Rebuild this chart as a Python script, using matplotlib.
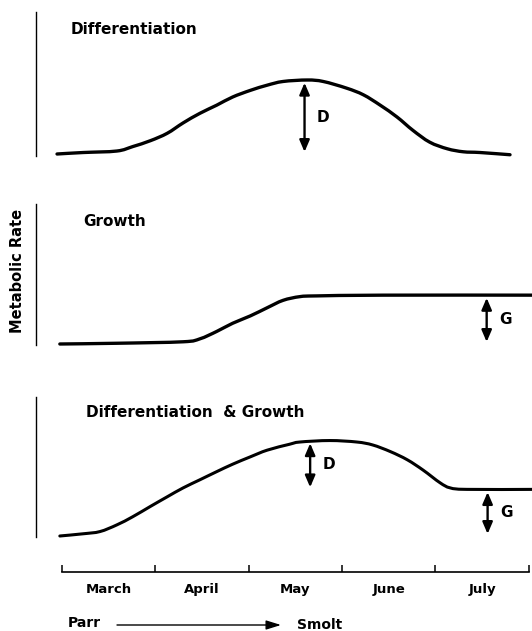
import matplotlib
matplotlib.use("Agg")
import matplotlib.pyplot as plt
from matplotlib.path import Path
from matplotlib.patches import PathPatch

# ---------------- data (x in months from start of March, y = relative metabolic rate) ----
months = ["March", "April", "May", "June", "July"]

diff_x = [-0.05, 0.23, 0.59, 0.76, 0.95, 1.13, 1.30, 1.48, 1.66, 1.83, 2.02, 2.20, 2.37,
          2.63, 2.80, 3.05, 3.23, 3.41, 3.59, 3.76, 3.94, 4.13, 4.30, 4.48, 4.80]
diff_y = [0.00, 0.02, 0.04, 0.10, 0.18, 0.28, 0.42, 0.55, 0.66, 0.77, 0.86, 0.93, 0.98,
          1.00, 0.98, 0.89, 0.80, 0.66, 0.50, 0.32, 0.16, 0.07, 0.03, 0.02, -0.01]

growth_x = [-0.02, 0.59, 1.30, 1.48, 1.66, 1.83, 2.02, 2.20, 2.37, 2.55, 2.73, 3.44, 5.04]
growth_y = [0.00, 0.01, 0.03, 0.07, 0.17, 0.28, 0.38, 0.49, 0.59, 0.64, 0.65, 0.66, 0.66]

both_x = [-0.02, 0.23, 0.41, 0.59, 0.76, 0.95, 1.13, 1.30, 1.48, 1.66, 1.83, 2.02, 2.20,
          2.44, 2.55, 2.87, 3.16, 3.33, 3.52, 3.70, 3.87, 4.05, 4.16, 4.34, 5.04]
both_y = [0.00, 0.03, 0.06, 0.15, 0.26, 0.40, 0.53, 0.65, 0.76, 0.87, 0.97, 1.07, 1.16,
          1.24, 1.27, 1.29, 1.27, 1.23, 1.14, 1.03, 0.89, 0.72, 0.65, 0.63, 0.63]

# arrows: (label, x, y_bottom, y_top)
diff_arrows = [("D", 2.60, 0.00, 1.00)]
growth_arrows = [("G", 4.55, 0.00, 0.66)]
both_arrows = [("D", 2.66, 0.63, 1.29), ("G", 4.56, 0.00, 0.63)]

titles = ["Differentiation", "Growth", "Differentiation  & Growth"]
ylabel = "Metabolic Rate"
parr, smolt = "Parr", "Smolt"

# ---------------- layout ----------------
W, H = 532, 631
fig = plt.figure(figsize=(W / 100, H / 100), dpi=100)
fig.patch.set_facecolor("white")
FONT = "DejaVu Sans"


def rect(l, t, r, b):
    return [l / W, 1 - b / H, (r - l) / W, (b - t) / H]


def fpx(x, y):
    return x / W, 1 - y / H


def smooth_path(xs, ys):
    """Cubic Bezier path passing through every data point (Catmull-Rom tangents)."""
    pts = list(zip(xs, ys))
    n = len(pts)
    verts = [pts[0]]
    codes = [Path.MOVETO]
    for i in range(n - 1):
        p0 = pts[i - 1] if i > 0 else pts[i]
        p1 = pts[i]
        p2 = pts[i + 1]
        p3 = pts[i + 2] if i + 2 < n else pts[i + 1]
        c1 = (p1[0] + (p2[0] - p0[0]) / 6, p1[1] + (p2[1] - p0[1]) / 6)
        c2 = (p2[0] - (p3[0] - p1[0]) / 6, p2[1] - (p3[1] - p1[1]) / 6)
        verts += [c1, c2, p2]
        codes += [Path.CURVE4] * 3
    return Path(verts, codes)


PX_UNIT = 74.0
LEFT_PX, RIGHT_PX = 35.5, 532
X0_PX, MONTH_PX = 61.7, 93.4
XLIM = ((LEFT_PX - X0_PX) / MONTH_PX, (RIGHT_PX - X0_PX) / MONTH_PX)

panels = [
    dict(top=12, bottom=156, base=154, x=diff_x, y=diff_y, arrows=diff_arrows,
         title_xy=(71, 29.5), lw=2.4),
    dict(top=203.5, bottom=344.5, base=344, x=growth_x, y=growth_y, arrows=growth_arrows,
         title_xy=(83, 221), lw=2.4),
    dict(top=397, bottom=536.5, base=536, x=both_x, y=both_y, arrows=both_arrows,
         title_xy=(86.5, 412.5), lw=2.2),
]

for p, title in zip(panels, titles):
    ax = fig.add_axes(rect(LEFT_PX, p["top"], RIGHT_PX, p["bottom"]))
    ax.set_xlim(*XLIM)
    lo = -(p["bottom"] - p["base"]) / PX_UNIT
    hi = (p["base"] - p["top"]) / PX_UNIT
    ax.set_ylim(lo, hi)
    for s in ("top", "right", "bottom"):
        ax.spines[s].set_visible(False)
    ax.spines["left"].set_linewidth(1.0)
    ax.set_xticks([])
    ax.set_yticks([])
    ax.patch.set_alpha(0)
    patch = PathPatch(smooth_path(p["x"], p["y"]), facecolor="none", edgecolor="black",
                      lw=p["lw"], capstyle="round", joinstyle="round",
                      transform=ax.transData, clip_on=False)
    ax.add_patch(patch)
    for lab, ax_x, yb, yt in p["arrows"]:
        ax.annotate("", xy=(ax_x, yt), xytext=(ax_x, yb),
                    arrowprops=dict(arrowstyle="<|-|>,head_length=0.7,head_width=0.3",
                                    lw=1.7, color="black", shrinkA=1.5, shrinkB=2.0,
                                    mutation_scale=10),
                    annotation_clip=False)
        ax.annotate(lab, xy=(ax_x, (yb + yt) / 2), xytext=(13.5, 0),
                    textcoords="offset points", ha="center", va="center",
                    fontsize=11, fontweight="bold", family=FONT,
                    annotation_clip=False)
    tx, ty = fpx(*p["title_xy"])
    fig.text(tx, ty, title, ha="left", va="center", fontsize=11,
             fontweight="bold", family=FONT)

# y label
lx, ly = fpx(17.5, 271)
fig.text(lx, ly, ylabel, rotation=90, ha="center", va="center", fontsize=10.5,
         fontweight="bold", family=FONT)

# time axis
axt = fig.add_axes(rect(LEFT_PX, 555, RIGHT_PX, 571.7))
axt.set_xlim(*XLIM)
axt.set_ylim(0, 1)
axt.patch.set_alpha(0)
for s in ("top", "right", "left"):
    axt.spines[s].set_visible(False)
axt.spines["bottom"].set_linewidth(1.2)
axt.spines["bottom"].set_bounds(0, len(months))
axt.set_yticks([])
axt.set_xticks(range(len(months) + 1))
axt.set_xticklabels([])
axt.tick_params(axis="x", which="major", direction="in", length=4.8, width=1.1)
axt.set_xticks([i + 0.5 for i in range(len(months))], months, minor=True)
axt.tick_params(axis="x", which="minor", length=0, pad=8)
for t in axt.get_xticklabels(minor=True):
    t.set_fontsize(9.5)
    t.set_fontweight("bold")
    t.set_family(FONT)

# Parr -> Smolt
px_, py_ = fpx(68, 623)
fig.text(px_, py_, parr, ha="left", va="center", fontsize=10, fontweight="bold", family=FONT)
sx_, sy_ = fpx(297, 625)
fig.text(sx_, sy_, smolt, ha="left", va="center", fontsize=10, fontweight="bold", family=FONT)
axt.annotate("", xy=fpx(281, 625), xycoords="figure fraction",
             xytext=fpx(117, 625), textcoords="figure fraction",
             arrowprops=dict(arrowstyle="-|>,head_length=0.9,head_width=0.28",
                             lw=1.0, color="black", shrinkA=0, shrinkB=0,
                             mutation_scale=10),
             annotation_clip=False)

fig.savefig("out.png", dpi=100, facecolor="white")
